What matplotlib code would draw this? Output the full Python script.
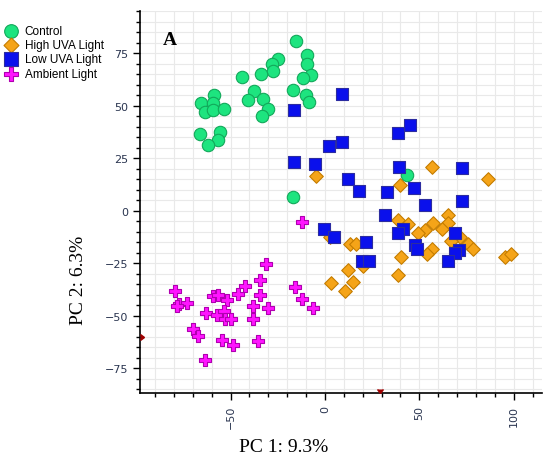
import matplotlib
matplotlib.use('Agg')
import matplotlib.pyplot as plt
from matplotlib.ticker import MultipleLocator

# PCA scores
control_x = [-15.5, -9.7, -9.4, -7.4, -11.5, -25, -28, -27.4, -34, -43.8,
             -16.8, -10.2, -8.5, -37.5, -41, -32.7, -30, -33.5, -58.7, -65.7,
             -59.2, -63.6, -59.5, -53.4, -66.2, -55.6, -56.5, -62.2, -16.8, 43.3]
control_y = [80.8, 74, 70, 64.4, 63.3, 72, 70, 66.3, 65, 63.7,
             57.6, 55.2, 51.8, 56.8, 52.9, 53, 48.6, 45, 55.2, 51.4,
             51.4, 47, 48.1, 48.2, 36.7, 37.5, 33.8, 31.4, 6.3, 16.8]

high_x = [-4.8, 39.7, 56.5, 86.2, 65, 38.9, 44.1, 57.1, 65, 61.8,
          53, 49.4, 71.5, 66.8, 75.9, 78.2, 56.5, 53.9, 2.6, 13.2,
          16.4, 20.3, 12, 14.7, 3.2, 10.6, 40.3, 38.5, 95.4, 98.6]
high_y = [16.5, 12.4, 20.8, 14.9, -1.8, -4.6, -6.2, -5.7, -5.7, -8.6,
          -9.4, -10.5, -12.5, -14.4, -15.7, -18.4, -18.4, -20.5, -12.5, -15.7,
          -15.7, -26.5, -28, -33.7, -34.3, -38.2, -21.8, -30.8, -22, -20.8]

low_x = [8.8, -16.3, 45, 38.9, 8.8, 2.1, -16.3, -5.3, 39.2, 12,
         18, 33, 47.3, 53, 72.4, 72.4, 31.8, 41.2, 38.5, 68.9,
         47.7, 48.6, 71.2, 68.9, 65, 21.6, 19.4, 23.5, -0.4, 4.9]
low_y = [55.7, 47.8, 40.6, 37.1, 32.7, 30.6, 23.2, 22.4, 20.8, 14.9,
         9.4, 8.9, 11, 2.5, 20.3, 4.4, -1.9, -8.6, -10.5, -10.5,
         -16.2, -18.4, -18.9, -20, -23.7, -14.9, -24, -24, -8.6, -12.5]

amb_x = [-12.4, -31.3, -34.4, -42.4, -45.9, -34.4, -15.9, -12.4, -6.5, -30.4,
         -38.3, -38.3, -79.5, -77.2, -73.3, -78.3, -59.5, -56.5, -51.8, -63.1,
         -57.4, -53.5, -53, -50, -70.1, -67.1, -54.7, -48.6, -35.7, -63.6]
amb_y = [-5.4, -25.2, -33.2, -36, -39.5, -40, -36.4, -41.9, -46.3, -46.3,
         -45.4, -51.4, -38.4, -44.3, -44, -45.4, -40.6, -40, -42.7, -48.7,
         -49.8, -47.9, -51.4, -51.4, -56.5, -59.4, -61.4, -63.7, -62.2, -71]

fig = plt.figure(figsize=(5.5, 4.64), dpi=100)
ax = fig.add_axes([0.2545, 0.151, 0.731, 0.823])

ax.scatter(control_x, control_y, s=80, marker='o', color='#1de47f',
           edgecolors='#12a85a', linewidths=0.8, label='Control', zorder=3)
ax.scatter(high_x, high_y, s=48, marker='D', color='#f5a418',
           edgecolors='#c47c00', linewidths=0.8, label='High UVA Light', zorder=3)
ax.scatter(low_x, low_y, s=85, marker='s', color='#0a10ec',
           edgecolors='#2c2ca0', linewidths=0.8, label='Low UVA Light', zorder=3)
ax.scatter(amb_x, amb_y, s=85, marker='P', color='#ff14ff',
           edgecolors='#b000b0', linewidths=0.8, label='Ambient Light', zorder=3)

ax.set_xlim(-98, 115)
ax.set_ylim(-86.7, 95)
ax.xaxis.set_major_locator(MultipleLocator(50))
ax.xaxis.set_minor_locator(MultipleLocator(10))
ax.yaxis.set_major_locator(MultipleLocator(25))
ax.yaxis.set_minor_locator(MultipleLocator(5))
ax.grid(which='both', color='#e9e9e9', linewidth=0.8, zorder=0)
ax.set_axisbelow(True)

for s in ['top', 'right']:
    ax.spines[s].set_visible(False)
ax.spines['left'].set_linewidth(1.2)
ax.spines['bottom'].set_linewidth(1.2)
ax.tick_params(which='major', length=5, width=1, labelsize=8, labelcolor='#2a3550')
ax.tick_params(which='minor', length=3, width=1)
ax.tick_params(axis='x', labelrotation=90)

# small red origin markers on the axes
ax.plot([-98], [-60], marker=9, color='#a00000', markersize=4, clip_on=False, zorder=5)
ax.plot([29], [-86.7], marker=7, color='#a00000', markersize=4, clip_on=False, zorder=5)

ax.text(-86, 79.5, 'A', fontsize=14, fontweight='bold', family='Liberation Serif')

fig.text(0.142, 0.395, 'PC 2: 6.3%', rotation=90, ha='center', va='center',
         fontsize=14, family='Liberation Serif')
fig.text(0.515, 0.035, 'PC 1: 9.3%', ha='center', va='center',
         fontsize=14, family='Liberation Serif')

fig.legend(loc='upper left', bbox_to_anchor=(0.0, 0.955), frameon=False,
           prop={'family': 'Liberation Sans', 'size': 8.5}, markerscale=1.1,
           handletextpad=0.7, labelspacing=0.2, borderaxespad=0,
           handlelength=1.0, borderpad=0.4)

fig.savefig('out.png', dpi=100)
